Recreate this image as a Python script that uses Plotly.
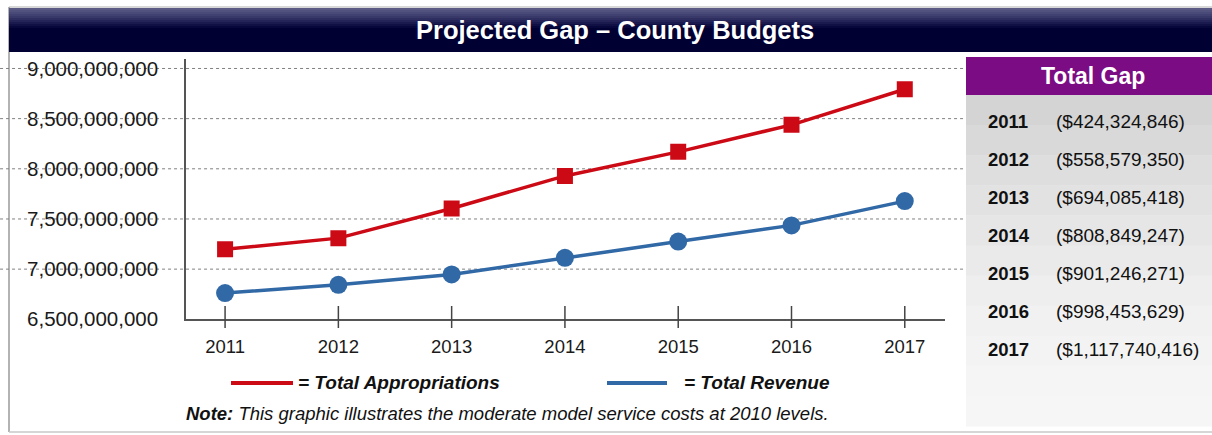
import plotly.graph_objects as go

# ---- data -------------------------------------------------------------
years = [2011, 2012, 2013, 2014, 2015, 2016, 2017]
appropriations = [7.198e9, 7.309e9, 7.605e9, 7.929e9, 8.169e9, 8.438e9, 8.793e9]
revenue = [6.761e9, 6.844e9, 6.947e9, 7.113e9, 7.275e9, 7.436e9, 7.678e9]
gap_values = [424324846, 558579350, 694085418, 808849247, 901246271, 998453629, 1117740416]
y_ticks = [6.5e9, 7.0e9, 7.5e9, 8.0e9, 8.5e9, 9.0e9]

# ---- figure geometry (pixels -> paper fractions) ----------------------
W, H = 1212, 435


def fx(px):
    return px / W


def fy(py):
    return 1 - py / H


FONT = "Liberation Sans, Arial, sans-serif"
RED = "#cc0a16"
BLUE = "#3168a6"

fig = go.Figure()

fig.add_trace(go.Scatter(
    x=years, y=appropriations, mode="lines+markers", name="Total Appropriations",
    line=dict(color=RED, width=3.5),
    marker=dict(symbol="square", size=16, color=RED),
    showlegend=False,
))
fig.add_trace(go.Scatter(
    x=years, y=revenue, mode="lines+markers", name="Total Revenue",
    line=dict(color=BLUE, width=3.5),
    marker=dict(symbol="circle", size=18, color=BLUE),
    showlegend=False,
))

shapes = []
annotations = []

# outer frame
shapes.append(dict(type="line", xref="paper", yref="paper", x0=fx(9), x1=fx(9),
                   y0=fy(7), y1=fy(432), line=dict(color="#9a9a9a", width=1.5), layer="below"))
shapes.append(dict(type="line", xref="paper", yref="paper", x0=fx(9), x1=1,
                   y0=fy(432), y1=fy(432), line=dict(color="#c8c8c8", width=1.5), layer="below"))
shapes.append(dict(type="line", xref="paper", yref="paper", x0=fx(9), x1=1,
                   y0=fy(7), y1=fy(7), line=dict(color="#b0b0b0", width=1), layer="below"))

# title banner: stacked bands give a dark navy gradient with a lighter top
banner_top = ["#5a5a84", "#52527e", "#4a4a78", "#414171", "#383869", "#2e2e61",
              "#242458", "#1a1a4e", "#101044", "#07073b"]
band_h = 2
for i, c in enumerate(banner_top):
    y0 = 8 + i * band_h
    shapes.append(dict(type="rect", xref="paper", yref="paper", x0=fx(9), x1=1,
                       y0=fy(y0), y1=fy(y0 + band_h + 0.5), fillcolor=c,
                       line=dict(width=0), layer="below"))
shapes.append(dict(type="rect", xref="paper", yref="paper", x0=fx(9), x1=1,
                   y0=fy(28), y1=fy(52), fillcolor="#000033", line=dict(width=0), layer="below"))
annotations.append(dict(text="Projected Gap – County Budgets", xref="paper", yref="paper",
                        x=fx(615), y=fy(30), xanchor="center", yanchor="middle", showarrow=False,
                        font=dict(family=FONT, size=25.5, color="white", weight="bold")))

# dotted gridlines extend a little left of the value axis
for v in y_ticks[1:]:
    shapes.append(dict(type="line", xref="paper", yref="y", x0=(171 - 186) / 759,
                       x1=1, y0=v, y1=v, line=dict(color="#808080", width=1, dash="dot"),
                       layer="below"))

# category ticks crossing the x axis line
for yr in years:
    shapes.append(dict(type="line", xref="x", yref="paper", x0=yr, x1=yr,
                       y0=fy(306), y1=fy(328), line=dict(color="#444444", width=1.5)))

# gap panel
shapes.append(dict(type="rect", xref="paper", yref="paper", x0=fx(966), x1=1,
                   y0=fy(57), y1=fy(95), fillcolor="#7c0c84", line=dict(width=0)))
panel_cols = ["#d4d4d4", "#d9d9d9", "#dedede", "#e2e2e2", "#e6e6e6", "#eaeaea",
              "#eeeeee", "#f1f1f1", "#f3f3f3", "#f5f5f5", "#f6f6f6"]
step = (426 - 95) / len(panel_cols)
for i, c in enumerate(panel_cols):
    y0 = 95 + i * step
    shapes.append(dict(type="rect", xref="paper", yref="paper", x0=fx(966), x1=1,
                       y0=fy(y0), y1=fy(y0 + step + 0.5), fillcolor=c, line=dict(width=0),
                       layer="below"))
annotations.append(dict(text="Total Gap", xref="paper", yref="paper", x=fx(1093), y=fy(76),
                        xanchor="center", yanchor="middle", showarrow=False,
                        font=dict(family=FONT, size=23, color="white", weight="bold")))
for i, (yr, g) in enumerate(zip(years, gap_values)):
    yy = fy(121 + i * 38)
    annotations.append(dict(text=str(yr), xref="paper", yref="paper", x=fx(986), y=yy,
                            xanchor="left", yanchor="middle", showarrow=False,
                            font=dict(family=FONT, size=18.5, color="#111111", weight="bold")))
    annotations.append(dict(text="(${:,})".format(g), xref="paper", yref="paper", x=fx(1054),
                            y=yy, xanchor="left", yanchor="middle", showarrow=False,
                            font=dict(family=FONT, size=19, color="#111111")))

# series key
for (x0, x1, tx, col, label) in [(231, 293, 296, RED, "= Total Appropriations"),
                                 (607, 667, 682, BLUE, "= Total Revenue")]:
    shapes.append(dict(type="line", xref="paper", yref="paper", x0=fx(x0), x1=fx(x1),
                       y0=fy(383), y1=fy(383), line=dict(color=col, width=4)))
    annotations.append(dict(text="<i>" + label + "</i>", xref="paper", yref="paper",
                            x=fx(tx), y=fy(382), xanchor="left", yanchor="middle",
                            showarrow=False,
                            font=dict(family=FONT, size=19, color="#111111", weight="bold")))

annotations.append(dict(
    text="<b><i>Note:</i></b><i> This graphic illustrates the moderate model service costs at 2010 levels.</i>",
    xref="paper", yref="paper", x=fx(184), y=fy(413), xanchor="left", yanchor="middle",
    showarrow=False, font=dict(family=FONT, size=18.5, color="#111111")))

fig.update_layout(
    width=W, height=H,
    margin=dict(l=0, r=0, t=0, b=0, pad=0, autoexpand=False),
    paper_bgcolor="white", plot_bgcolor="rgba(0,0,0,0)",
    shapes=shapes, annotations=annotations,
    xaxis=dict(domain=[fx(186), fx(945)], range=[2010.655, 2017.355], automargin=False,
               tickvals=years, ticktext=[str(y) for y in years], ticks="",
               showgrid=False, zeroline=False, showline=True, linecolor="#555555",
               linewidth=1.5, ticklabelstandoff=10,
               tickfont=dict(family=FONT, size=18.5, color="#1a1a1a")),
    yaxis=dict(domain=[fy(319.3), fy(59)], range=[6.5e9, 9.0945e9], automargin=False,
               tickvals=y_ticks, tickformat=",d", ticks="", showgrid=False,
               zeroline=False, showline=True, linecolor="#555555", linewidth=1.5,
               ticklabelstandoff=22,
               tickfont=dict(family=FONT, size=20.5, color="#1a1a1a")),
    hovermode=False,
)

fig.write_html("out.html")
